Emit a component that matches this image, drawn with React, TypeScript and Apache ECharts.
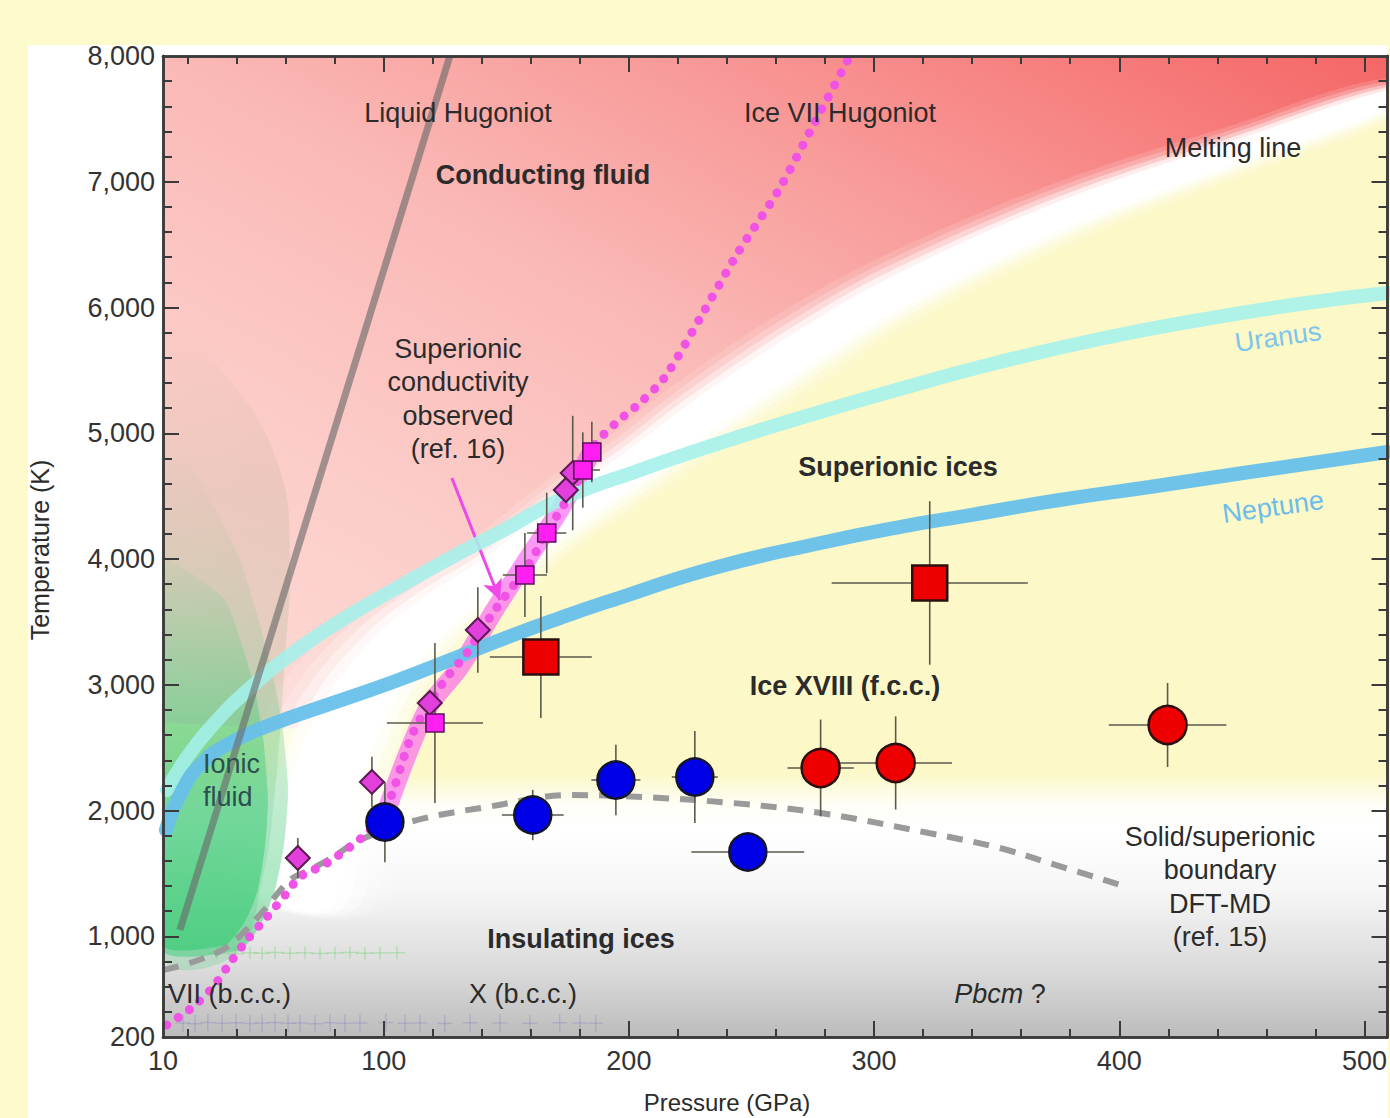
import React, { useEffect, useRef } from "react";
import * as echarts from "echarts";

const FONT = "'Liberation Sans', Arial, Helvetica, sans-serif";

// ---------------- axes ----------------
const P_MIN = 10;
const P_MAX = 509.4;
const T_MIN = 200;
const T_MAX = 8000;
const pLabelValues = [10, 100, 200, 300, 400, 500];
const pMajorTicks = [100, 200, 300, 400, 500];
const pMinorTicks = [20, 40, 60, 80, 120, 140, 160, 180, 220, 240, 260, 280, 320, 340, 360, 380, 420, 440, 460, 480];
const tLabelValues = [200, 1000, 2000, 3000, 4000, 5000, 6000, 7000, 8000];
const tMajorTicks = [1000, 2000, 3000, 4000, 5000, 6000, 7000];
const tMinorTicks = [400, 600, 800, 1200, 1400, 1600, 1800, 2200, 2400, 2600, 2800, 3200, 3400, 3600, 3800, 4200, 4400, 4600, 4800, 5200, 5400, 5600, 5800, 6200, 6400, 6600, 6800, 7200, 7400, 7600, 7800];

// ---------------- regions (pressure GPa, temperature K) ----------------
const conductingRegion = [[10, 8000], [509.4, 8000], [509.4, 7674], [446.2, 7229], [378.5, 6752], [310.4, 6139], [269.7, 5662], [228.9, 5122], [204.5, 4772], [171.8, 4327], [144.5, 3897], [122.9, 3595], [103.8, 3237], [86.2, 2720], [60, 2650], [10, 2700]];
const meltingLine = [[65.8, 1289], [74.0, 2084], [86.2, 2720], [103.8, 3237], [122.9, 3595], [144.5, 3897], [171.8, 4327], [204.5, 4772], [228.9, 5122], [269.7, 5662], [310.4, 6139], [378.5, 6752], [446.2, 7229], [514.2, 7690]];
const insulatingRegion = [[10, 2300], [509.4, 2300], [509.4, 200], [10, 200]];
const ionicFluidHaze = [[10, 852], [39.4, 852], [50.4, 1448], [55.7, 2164], [59.7, 3198], [61.8, 3993], [57.7, 4708], [37.3, 5424], [10, 5821]];
const ionicFluidMiddle = [[10, 892], [41.4, 892], [50.0, 1100], [55.7, 1369], [59.5, 1750], [61.0, 2164], [58.8, 2650], [54.4, 3118], [48.5, 3550], [41.4, 3993], [32.0, 4380], [23.0, 4708], [10, 4947]];
const ionicFluidInner = [[10, 932], [35.3, 932], [43.5, 1120], [48.7, 1369], [51.8, 1750], [52.8, 2084], [51.0, 2550], [47.5, 2959], [42.0, 3330], [35.3, 3675], [22.0, 3880], [10, 3993]];

// ---------------- curves ----------------
const liquidHugoniot = [[16.9, 1051], [127.0, 8000]];
const iceVIIHugoniot = [[11.6, 295], [22.2, 439], [30.4, 598], [37.3, 788], [44.2, 971], [52.4, 1154], [60.5, 1345], [65.8, 1472], [76.9, 1583], [93.2, 1822], [101.3, 2029], [111.9, 2617], [124.1, 3015], [133.9, 3253], [144.5, 3571], [158.4, 3937], [167.8, 4255], [178.8, 4605], [186.1, 4907], [194.7, 5082], [204.5, 5241], [214.7, 5448], [229.3, 5925], [244.4, 6434], [261.1, 6935], [274.6, 7427], [289.3, 7968]];
const superionicBand = [[101.3, 2005], [117.6, 2800], [131.1, 3142], [144.5, 3571], [158.4, 3993], [171.8, 4390], [184.1, 4827]];
const uranusIsentrope = [[11.6, 2164], [19.0, 2402], [29.2, 2657], [45.5, 2975], [65.8, 3293], [86.2, 3555], [103.8, 3754], [127.1, 4008], [147.5, 4215], [171.8, 4470], [204.5, 4708], [237.1, 4923], [269.7, 5122], [310.4, 5352], [351.2, 5567], [392.0, 5750], [432.8, 5901], [473.5, 6028], [509.4, 6115]];
const neptuneIsentrope = [[11.2, 1846], [16.9, 2124], [25.1, 2362], [37.3, 2537], [53.6, 2680], [79.3, 2856], [103.8, 3023], [127.1, 3198], [147.5, 3357], [171.8, 3531], [191.0, 3659], [234.6, 3929], [278.2, 4128], [310.4, 4255], [336.9, 4342], [375.7, 4470], [412.4, 4573], [453.2, 4692], [509.4, 4851]];
const solidSuperionicBoundary = [[10, 733], [22.2, 796], [36.1, 916], [49.5, 1170], [61.8, 1448], [69.9, 1528], [79.3, 1631], [90.3, 1766], [113.5, 1925], [142.1, 2029], [176.3, 2124], [205.7, 2108], [242.0, 2061], [278.2, 1981], [322.3, 1822], [351.2, 1703], [371.6, 1583], [403.0, 1393]];
const arrowFrom = [127.8, 4645];
const arrowTo = [147.4, 3675];

// ---------------- measurements [P, T, errP, errT] ----------------
const conductivityDiamonds = [[65.0, 1623, 0, 160], [95.2, 2228, 0, 200], [118.8, 2856, 0, 0], [138.4, 3436, 0, 340], [177.1, 4684, 0, 455], [174.3, 4549, 0, 0]];
const conductivitySquares = [[120.9, 2697, 19.6, 636], [157.6, 3873, 9, 334], [166.5, 4207, 8, 320], [181.2, 4708, 7, 300], [184.9, 4851, 0, 240]];
const bccPoints = [[100.5, 1909, 0, 320], [160.8, 1965, 12.6, 200], [194.7, 2243, 10, 280], [226.9, 2267, 9.4, 366], [248.5, 1671, 23, 0]];
const fccCircles = [[278.2, 2339, 13.5, 385], [308.8, 2379, 23, 370], [419.7, 2681, 24, 334]];
const fccSquares = [[164.1, 3221, 20.8, 485], [322.7, 3810, 40, 650]];
// faint background measurements near the bottom of the diagram
const faintUpperRow = [[32.0, 868, 3.5, 50], [39.4, 862, 3.5, 50], [45.5, 870, 3.5, 50], [50.4, 866, 3.5, 50], [55.7, 872, 3.5, 50], [61.8, 866, 3.5, 50], [67.9, 870, 3.5, 50], [74.0, 864, 3.5, 50], [80.1, 868, 3.5, 50], [86.2, 872, 3.5, 50], [92.3, 866, 3.5, 50], [98.5, 868, 3.5, 50], [105.4, 870, 3.5, 50]];
const faintLowerRow = [[18.2, 311, 3, 70], [23.0, 305, 3, 70], [28.3, 315, 3, 70], [34.1, 309, 3, 70], [39.8, 313, 3, 70], [45.5, 307, 3, 70], [50.4, 311, 3, 70], [55.7, 315, 3, 70], [61.0, 309, 3, 70], [65.8, 311, 3, 70], [72.0, 305, 3, 70], [78.1, 313, 3, 70], [84.2, 309, 3, 70], [90.3, 311, 3, 70], [100.9, 315, 3, 70], [108.7, 309, 3, 70], [114.8, 311, 3, 70], [124.9, 307, 3, 70], [135.2, 313, 3, 70], [147.4, 311, 3, 70], [159.6, 309, 3, 70], [171.8, 313, 3, 70], [180.0, 311, 3, 70], [186.5, 309, 3, 70]];

// ---------------- styles ----------------
const MELT_HALF_WIDTH = [55, 60, 55, 44, 34, 28, 27, 28, 30, 30, 27, 23, 19, 13];
const MELT_LAYERS = [
  [1.4, 0.14],
  [1.18, 0.22],
  [0.98, 0.38],
  [0.78, 0.65],
  [0.58, 1],
];
const AXIS_COLOR = "#3a3a3a";
const TEXT_COLOR = "#2b2b2b";

function offsetBand(px: number[][], hw: number[], s: number) {
  const left: number[][] = [];
  const right: number[][] = [];
  for (let i = 0; i < px.length; i++) {
    const a = px[Math.max(0, i - 1)];
    const b = px[Math.min(px.length - 1, i + 1)];
    const dx = b[0] - a[0];
    const dy = b[1] - a[1];
    const L = Math.hypot(dx, dy) || 1;
    const nx = -dy / L;
    const ny = dx / L;
    const w = hw[i] * s;
    left.push([px[i][0] + nx * w, px[i][1] + ny * w]);
    right.push([px[i][0] - nx * w, px[i][1] - ny * w]);
  }
  return left.concat(right.reverse());
}

function regionSeries(id: string, pts: number[][], fill: any, z: number, smooth = 0) {
  return {
    id,
    type: "custom",
    coordinateSystem: "cartesian2d",
    xAxisIndex: 0,
    yAxisIndex: 0,
    z,
    silent: true,
    clip: true,
    data: [[100, 1000]],
    renderItem: (_p: any, api: any) => ({
      type: "polygon",
      shape: { points: pts.map((p) => api.coord(p)), smooth },
      style: { fill },
    }),
  };
}

function errorSeries(id: string, pts: number[][], z: number, stroke = "#5a5a4c", lineWidth = 1.6) {
  return {
    id,
    type: "custom",
    coordinateSystem: "cartesian2d",
    xAxisIndex: 0,
    yAxisIndex: 0,
    z,
    silent: true,
    clip: true,
    data: pts,
    renderItem: (_p: any, api: any) => {
      const x = api.value(0);
      const y = api.value(1);
      const ex = api.value(2);
      const ey = api.value(3);
      const children: any[] = [];
      const st = { stroke, lineWidth };
      if (ex > 0) {
        const a = api.coord([x - ex, y]);
        const b = api.coord([x + ex, y]);
        children.push({ type: "line", shape: { x1: a[0], y1: a[1], x2: b[0], y2: b[1] }, style: st });
      }
      if (ey > 0) {
        const a = api.coord([x, y - ey]);
        const b = api.coord([x, y + ey]);
        children.push({ type: "line", shape: { x1: a[0], y1: a[1], x2: b[0], y2: b[1] }, style: st });
      }
      return { type: "group", children };
    },
  };
}

function xAxisDef(position: string, ticks: number[], len: number, labels: boolean) {
  return {
    type: "value",
    min: P_MIN,
    max: P_MAX,
    position,
    z: 50,
    splitLine: { show: false },
    axisLine: { show: true, onZero: false, lineStyle: { color: AXIS_COLOR, width: 2.5 } },
    axisTick: { show: true, inside: true, length: len, customValues: ticks, lineStyle: { color: AXIS_COLOR, width: 2 } },
    axisLabel: labels
      ? { show: true, customValues: pLabelValues, fontSize: 27, color: "#333", fontFamily: FONT, margin: 10 }
      : { show: false },
  };
}

function yAxisDef(position: string, ticks: number[], len: number, labels: boolean) {
  return {
    type: "value",
    min: T_MIN,
    max: T_MAX,
    position,
    z: 50,
    splitLine: { show: false },
    axisLine: { show: true, onZero: false, lineStyle: { color: AXIS_COLOR, width: 2.5 } },
    axisTick: { show: true, inside: true, length: len, customValues: ticks, lineStyle: { color: AXIS_COLOR, width: 2 } },
    axisLabel: labels
      ? {
          show: true,
          customValues: tLabelValues,
          fontSize: 27,
          color: "#333",
          fontFamily: FONT,
          margin: 8,
          formatter: (v: number) => v.toLocaleString("en-US"),
        }
      : { show: false },
  };
}

function txt(text: string, x: number, y: number, opts: any = {}) {
  return {
    type: "text",
    x,
    y,
    rotation: opts.rotation || 0,
    z: 100,
    silent: true,
    style: {
      text,
      fill: opts.color || TEXT_COLOR,
      fontFamily: FONT,
      fontSize: opts.size || 27,
      fontWeight: opts.bold ? "bold" : "normal",
      align: opts.align || "center",
      verticalAlign: opts.valign || "middle",
      lineHeight: opts.lh || 33,
      rich: opts.rich,
    },
  };
}

function vGrad(stops: [number, string][]) {
  return new echarts.graphic.LinearGradient(
    0,
    0,
    0,
    1,
    stops.map(([o, c]) => ({ offset: o, color: c }))
  );
}

export default function App() {
  const ref = useRef<HTMLDivElement>(null);

  useEffect(() => {
    if (!ref.current) return;
    const chart = echarts.init(ref.current, null, { renderer: "svg" });

    const redFill = new echarts.graphic.LinearGradient(0, 1, 1, 0, [
      { offset: 0, color: "#fddcd8" },
      { offset: 0.3, color: "#fccac6" },
      { offset: 0.5, color: "#fab9b6" },
      { offset: 0.68, color: "#f89e9c" },
      { offset: 0.85, color: "#f78080" },
      { offset: 1, color: "#f56666" },
    ]);
    const insulatingFill = vGrad([
      [0, "rgba(255,255,255,0)"],
      [0.12, "rgba(255,255,255,0.85)"],
      [0.22, "#ffffff"],
      [0.45, "#f6f6f6"],
      [0.75, "#dadada"],
      [1, "#bcbcbc"],
    ]);
    const hazeFill = vGrad([
      [0, "rgba(150,160,118,0)"],
      [0.25, "rgba(150,160,118,0.16)"],
      [0.5, "rgba(130,175,120,0.2)"],
      [0.8, "rgba(90,195,122,0.2)"],
      [1, "rgba(70,204,120,0.25)"],
    ]);
    const greenMiddle = vGrad([
      [0, "rgba(120,180,120,0)"],
      [0.35, "rgba(95,195,122,0.16)"],
      [1, "rgba(62,204,120,0.5)"],
    ]);
    const greenInner = vGrad([
      [0, "rgba(80,200,120,0.06)"],
      [0.4, "rgba(62,204,120,0.38)"],
      [1, "rgba(62,204,120,0.7)"],
    ]);

    const meltingSeries = {
      id: "melting",
      type: "custom",
      coordinateSystem: "cartesian2d",
      xAxisIndex: 0,
      yAxisIndex: 0,
      z: 3,
      silent: true,
      clip: true,
      data: [[100, 1000]],
      renderItem: (_p: any, api: any) => {
        const px = meltingLine.map((p) => api.coord(p));
        return {
          type: "group",
          children: MELT_LAYERS.map(([s, a]) => ({
            type: "polygon",
            shape: { points: offsetBand(px, MELT_HALF_WIDTH, s), smooth: 0.35 },
            style: { fill: `rgba(255,255,255,${a})` },
          })),
        };
      },
    };

    const lineSeries = (id: string, data: number[][], lineStyle: any, z: number, smooth: any = 0.35) => ({
      id,
      type: "line",
      xAxisIndex: 0,
      yAxisIndex: 0,
      data,
      z,
      silent: true,
      symbol: "none",
      showSymbol: false,
      smooth,
      clip: true,
      lineStyle,
    });

    const scatter = (id: string, data: number[][], symbol: string, size: any, itemStyle: any, z: number) => ({
      id,
      type: "scatter",
      xAxisIndex: 0,
      yAxisIndex: 0,
      data: data.map((d) => [d[0], d[1]]),
      symbol,
      symbolSize: size,
      itemStyle: { opacity: 1, ...itemStyle },
      z,
      silent: true,
    });

    const option: any = {
      animation: false,
      backgroundColor: "transparent",
      grid: {
        left: 163,
        right: 2,
        top: 56,
        bottom: 81,
        show: true,
        backgroundColor: "#fcf8c8",
        borderWidth: 0,
        containLabel: false,
      },
      xAxis: [
        xAxisDef("bottom", pMajorTicks, 16, true),
        xAxisDef("bottom", pMinorTicks, 8, false),
        xAxisDef("top", pMajorTicks, 16, false),
        xAxisDef("top", pMinorTicks, 8, false),
      ],
      yAxis: [
        yAxisDef("left", tMajorTicks, 16, true),
        yAxisDef("left", tMinorTicks, 9, false),
        yAxisDef("right", tMajorTicks, 16, false),
        yAxisDef("right", tMinorTicks, 9, false),
      ],
      series: [
        regionSeries("conducting", conductingRegion, redFill, 1),
        regionSeries("insulating", insulatingRegion, insulatingFill, 2),
        meltingSeries,
        regionSeries("ionicHaze", ionicFluidHaze, hazeFill, 4, 0.4),
        regionSeries("ionicMiddle", ionicFluidMiddle, greenMiddle, 4, 0.2),
        regionSeries("ionicInner", ionicFluidInner, greenInner, 4, 0.2),
        errorSeries("faintUpper", faintUpperRow, 4, "rgba(90,205,90,0.3)", 1.5),
        errorSeries("faintLower", faintLowerRow, 4, "rgba(110,110,190,0.25)", 1.5),
        lineSeries("superionicBand", superionicBand, { color: "rgba(250,70,240,0.55)", width: 19, cap: "round" }, 5),
        lineSeries("uranus", uranusIsentrope, { color: "rgba(164,240,234,0.88)", width: 14, cap: "round" }, 6, 0.5),
        lineSeries("neptune", neptuneIsentrope, { color: "rgba(104,192,234,0.95)", width: 14, cap: "round" }, 6, 0.5),
        lineSeries("liquidHugoniot", liquidHugoniot, { color: "rgba(105,105,105,0.62)", width: 7 }, 7, false),
        lineSeries("boundary", solidSuperionicBoundary, { color: "#9a9a9a", width: 6, type: [16, 11] }, 7),
        lineSeries("iceVIIHugoniot", iceVIIHugoniot, { color: "#f052e6", width: 9, type: [0.1, 13.5], cap: "round" }, 8, 0.3),
        {
          id: "arrow",
          type: "line",
          xAxisIndex: 0,
          yAxisIndex: 0,
          data: [],
          z: 9,
          silent: true,
          markLine: {
            silent: true,
            symbol: ["none", "arrow"],
            symbolSize: [15, 20],
            label: { show: false },
            lineStyle: { color: "#ec4ae6", width: 3, type: "solid" },
            data: [[{ coord: arrowFrom }, { coord: arrowTo }]],
          },
        },
        errorSeries("errDiamonds", conductivityDiamonds, 10),
        errorSeries("errSquares", conductivitySquares, 10),
        errorSeries("errBcc", bccPoints, 10),
        errorSeries("errFccC", fccCircles, 10),
        errorSeries("errFccS", fccSquares, 10),
        scatter("diamonds", conductivityDiamonds, "diamond", 24, { color: "#e23fdc", borderColor: "#5a1a52", borderWidth: 2 }, 11),
        scatter("msquares", conductivitySquares, "rect", 18, { color: "#ff1ff2", borderColor: "#5a135a", borderWidth: 1.6 }, 11),
        scatter("bcc", bccPoints, "circle", 37, { color: "#0000e6", borderColor: "#14142a", borderWidth: 2.5 }, 11),
        scatter("fccCircles", fccCircles, "circle", 38, { color: "#ee0000", borderColor: "#2a1010", borderWidth: 2.5 }, 11),
        scatter("fccSquares", fccSquares, "rect", 35, { color: "#ee0000", borderColor: "#2a1010", borderWidth: 2.5 }, 11),
      ],
      graphic: [
        txt("Liquid Hugoniot", 458, 113),
        txt("Ice VII Hugoniot", 840, 113),
        txt("Conducting fluid", 543, 175, { bold: true }),
        txt("Melting line", 1233, 148),
        txt("Superionic\nconductivity\nobserved\n(ref. 16)", 458, 399, { lh: 33.3 }),
        txt("Superionic ices", 898, 467, { bold: true }),
        txt("Ice XVIII (f.c.c.)", 845, 686, { bold: true }),
        txt("Ionic\nfluid", 203, 780, { align: "left", color: "#2c5050" }),
        txt("Solid/superionic\nboundary\nDFT-MD\n(ref. 15)", 1220, 887, { lh: 33.3 }),
        txt("Insulating ices", 581, 939, { bold: true }),
        txt("VII (b.c.c.)", 168, 994, { align: "left" }),
        txt("X (b.c.c.)", 523, 994),
        txt("{i|Pbcm} ?", 1000, 994, { rich: { i: { fontStyle: "italic", fontSize: 27, fontFamily: FONT, fill: TEXT_COLOR } } }),
        txt("Uranus", 1278, 337, { rotation: 0.14, color: "#7cc6ea" }),
        txt("Neptune", 1273, 507, { rotation: 0.14, color: "#6cbde8" }),
        txt("Temperature (K)", 40, 550, { rotation: Math.PI / 2, size: 25 }),
        txt("Pressure (GPa)", 727, 1089, { size: 24, valign: "top", lh: 26 }),
      ],
    };

    chart.setOption(option);
    return () => chart.dispose();
  }, []);

  return (
    <div style={{ position: "absolute", left: 0, top: 0, width: 1390, height: 1118, background: "#fdfacb", overflow: "hidden" }}>
      <div style={{ position: "absolute", left: 28, top: 45, width: 1360, height: 1073, background: "#ffffff" }} />
      <div ref={ref} style={{ position: "absolute", left: 0, top: 0, width: 1390, height: 1118 }} />
    </div>
  );
}
